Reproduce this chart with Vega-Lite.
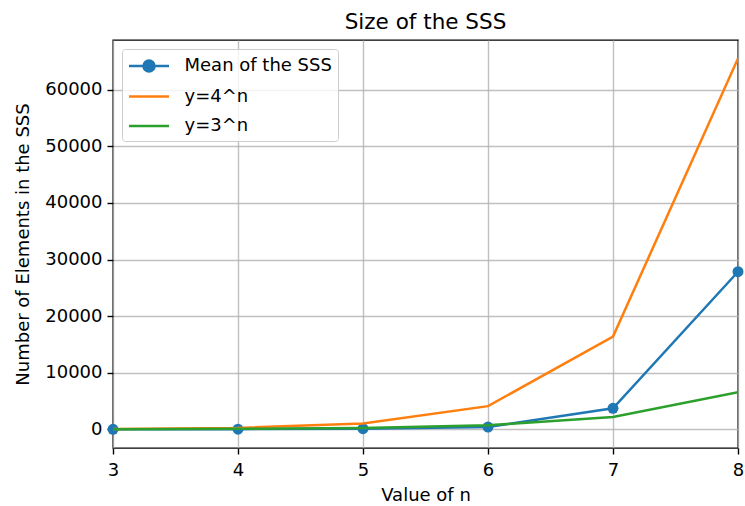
{
  "$schema": "https://vega.github.io/schema/vega-lite/v6.json",
  "background": "white",
  "autosize": "none",
  "padding": {"left": 113, "top": 40, "right": 7, "bottom": 58},
  "width": 625,
  "height": 408,
  "title": {"text": "Size of the SSS", "font": "DejaVu Sans", "fontSize": 21.5, "fontWeight": "normal", "color": "black", "offset": 7},
  "config": {
    "view": {"stroke": "black", "strokeWidth": 1.4},
    "axis": {
      "labelFont": "DejaVu Sans", "labelFontSize": 18, "labelColor": "black",
      "titleFont": "DejaVu Sans", "titleFontSize": 18, "titleFontWeight": "normal", "titleColor": "black",
      "gridColor": "#b0b0b0", "gridWidth": 1.4, "gridOpacity": 0.8,
      "tickColor": "black", "tickSize": 6, "tickWidth": 1.4, "domain": false, "labelPadding": 5
    }
  },
  "data": {
    "values": [
      {"n": 3, "series": "Mean of the SSS", "value": 5},
      {"n": 4, "series": "Mean of the SSS", "value": 30},
      {"n": 5, "series": "Mean of the SSS", "value": 110},
      {"n": 6, "series": "Mean of the SSS", "value": 400},
      {"n": 7, "series": "Mean of the SSS", "value": 3720},
      {"n": 8, "series": "Mean of the SSS", "value": 27850},
      {"n": 3, "series": "y=4^n", "value": 64},
      {"n": 4, "series": "y=4^n", "value": 256},
      {"n": 5, "series": "y=4^n", "value": 1024},
      {"n": 6, "series": "y=4^n", "value": 4096},
      {"n": 7, "series": "y=4^n", "value": 16384},
      {"n": 8, "series": "y=4^n", "value": 65536},
      {"n": 3, "series": "y=3^n", "value": 27},
      {"n": 4, "series": "y=3^n", "value": 81},
      {"n": 5, "series": "y=3^n", "value": 243},
      {"n": 6, "series": "y=3^n", "value": 729},
      {"n": 7, "series": "y=3^n", "value": 2187},
      {"n": 8, "series": "y=3^n", "value": 6561}
    ]
  },
  "encoding": {
    "x": {
      "field": "n", "type": "quantitative",
      "scale": {"domain": [3, 8], "nice": false, "zero": false},
      "axis": {"title": "Value of n", "values": [3, 4, 5, 6, 7, 8], "format": "d", "labelFlush": false, "labelPadding": 7, "titlePadding": 7}
    },
    "y": {
      "field": "value", "type": "quantitative",
      "scale": {"domain": [-3300, 68800], "nice": false, "zero": false},
      "axis": {"title": "Number of Elements in the SSS", "values": [0, 10000, 20000, 30000, 40000, 50000, 60000], "format": "d", "titlePadding": 12}
    },
    "color": {
      "field": "series", "type": "nominal",
      "scale": {"domain": ["Mean of the SSS", "y=4^n", "y=3^n"], "range": ["#1f77b4", "#ff7f0e", "#2ca02c"]},
      "legend": {
        "title": null, "orient": "top-left", "offset": 9,
        "labelFont": "DejaVu Sans", "labelFontSize": 18, "labelColor": "black",
        "symbolSize": 400, "symbolStrokeWidth": 2.5, "rowPadding": 8.5, "labelOffset": 34,
        "padding": 5.5, "fillColor": "rgba(255,255,255,0.8)", "strokeColor": "#cccccc", "cornerRadius": 3,
        "encode": {
          "symbols": {
            "update": {
              "shape": {"signal": "datum.value === 'Mean of the SSS' ? 'M-1,0L3,0M0.45,0A0.55,0.55 0 1,1 1.55,0A0.55,0.55 0 1,1 0.45,0' : 'M-1,0L3,0'"},
              "fill": {"signal": "datum.value === 'Mean of the SSS' ? '#1f77b4' : 'transparent'"},
              "stroke": {"scale": "color", "field": "value"},
              "strokeWidth": {"value": 2.5},
              "opacity": {"value": 1}
            }
          }
        }
      }
    }
  },
  "layer": [
    {
      "transform": [{"filter": "datum.series === 'Mean of the SSS'"}],
      "mark": {"type": "line", "strokeWidth": 2.5, "clip": true}
    },
    {
      "transform": [{"filter": "datum.series === 'Mean of the SSS'"}],
      "mark": {"type": "point", "filled": true, "size": 120, "opacity": 1, "shape": "circle"}
    },
    {
      "transform": [{"filter": "datum.series !== 'Mean of the SSS'"}],
      "mark": {"type": "line", "strokeWidth": 2.5, "clip": true}
    }
  ]
}
